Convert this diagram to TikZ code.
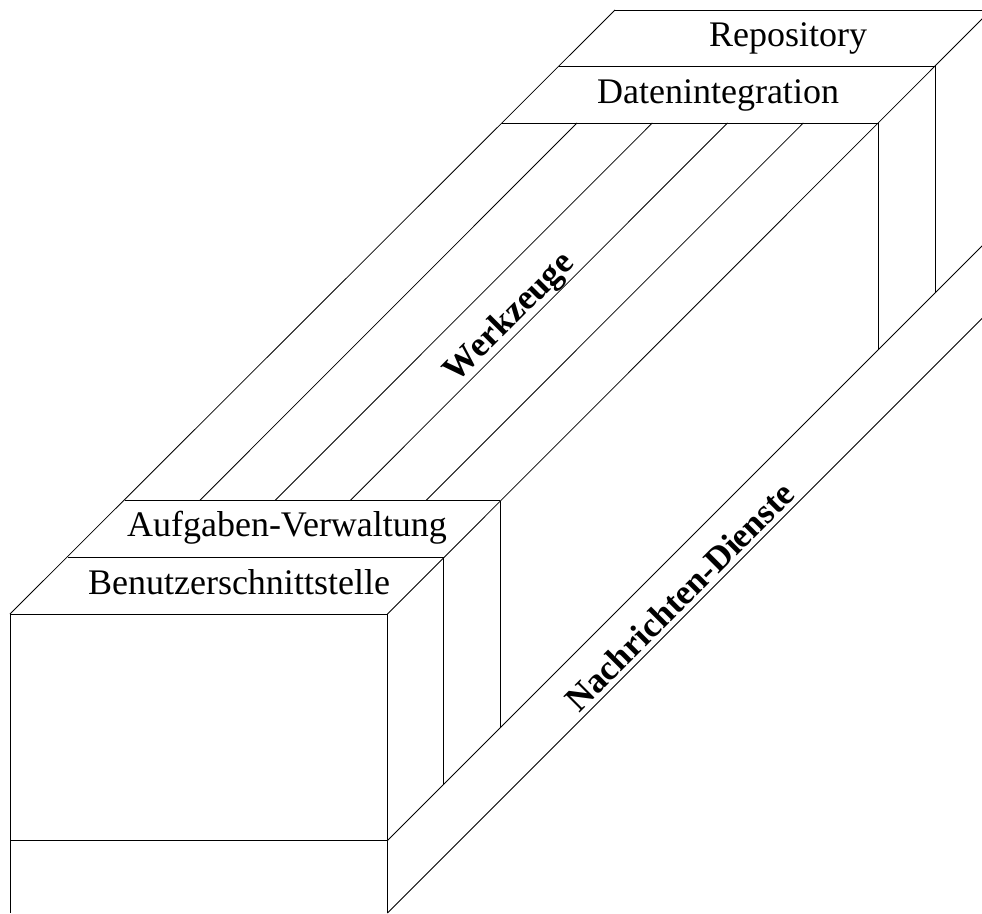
\documentclass[tikz,border=0pt]{standalone}
\usepackage{fontspec}
\setmainfont{Liberation Serif}
\begin{document}
\begin{tikzpicture}[x=1pt,y=-1pt,line width=0.8pt,
  lbl/.style={font=\fontsize{36}{40}\selectfont,anchor=base,inner sep=0pt},
  rlbl/.style={font=\bfseries\fontsize{35}{40}\selectfont,anchor=base,inner sep=0pt,rotate=45}]
\useasboundingbox (0,0) rectangle (982,913);
\clip (0,0) rectangle (982,913);
% corners
\coordinate (FL) at (10,614);
\coordinate (FR) at (387.5,614);
\coordinate (BL) at (615,10);
\coordinate (BR) at (991,10);
% outer edges
\draw (FL) -- (BL);
\draw (FR) -- (BR);
% horizontal edges
\draw (BL) -- (BR);
\draw (559,66) -- (935,66);
\draw (502,123) -- (878,123);
\draw (124.5,500.7) -- (500.3,500.7);
\draw (67.5,557.3) -- (443.8,557.3);
\draw (FL) -- (FR);
\draw (10,840) -- (387.5,840);
% verticals
\draw (FL) -- (10,913);
\draw (FR) -- (387.5,913);
\draw (443.8,557.3) -- (443.8,784.2);
\draw (500.3,500.7) -- (500.3,727.7);
\draw (878,123) -- (878,350);
\draw (935,66) -- (935,293);
% base diagonals
\draw (387.5,840.5) -- (1000,228);
\draw (387.5,913) -- (1000,300.5);
% tool strips
\draw (199.5,500.7) -- (577,123);
\draw (274.8,500.7) -- (652.3,123);
\draw (350,500.7) -- (727.5,123);
\draw (425.8,500.7) -- (803.3,123);
% labels
\node[lbl] (repo) at (788,46) {Repository};
\node[lbl] (dint) at (718,103) {Datenintegration};
\node[lbl] (aufg) at (287,536.5) {Aufgaben-Verwaltung};
\node[lbl] (bens) at (239,594) {Benutzerschnittstelle};
\node[rlbl] (werk) at (516,324) {Werkzeuge};
\node[rlbl] (nach) at (688,605) {Nachrichten-Dienste};
\end{tikzpicture}
\end{document}
